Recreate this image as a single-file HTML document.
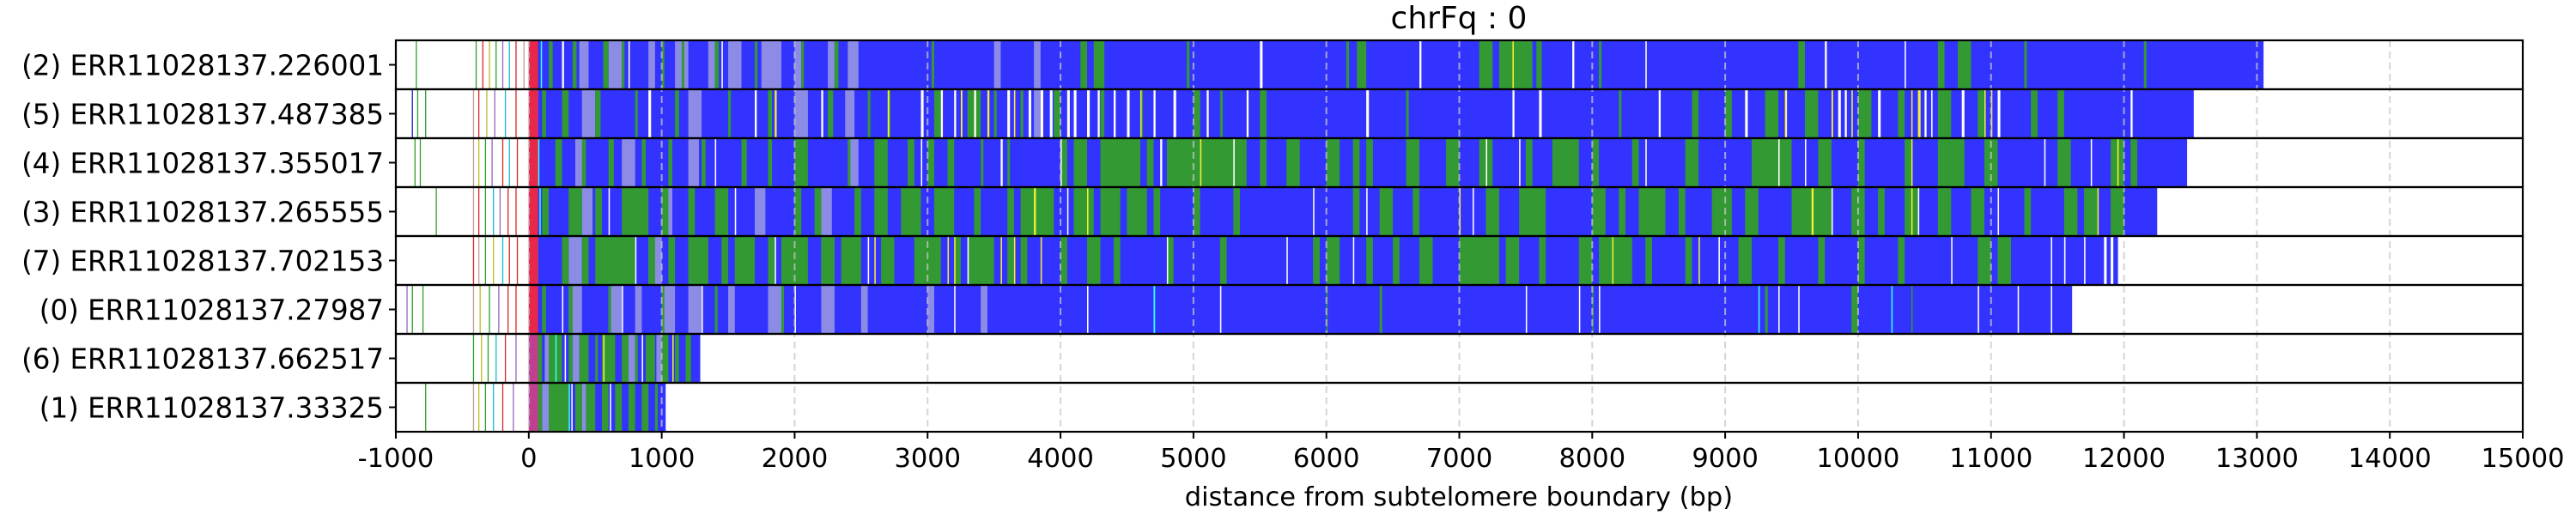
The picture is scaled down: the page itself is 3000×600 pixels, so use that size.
<!DOCTYPE html>
<html><head><meta charset="utf-8">
<style>
html,body{margin:0;padding:0;background:#fff;}
svg{display:block;font-family:"DejaVu Sans","Liberation Sans",sans-serif;}
</style></head>
<body>
<svg id="chart" width="3000" height="600" viewBox="0 0 3000 600" xmlns="http://www.w3.org/2000/svg">
<text x="1699" y="33" font-size="36" text-anchor="middle">chrFq : 0</text>
<text x="1699" y="589" font-size="30.5" text-anchor="middle">distance from subtelomere boundary (bp)</text>
<g id="bars"></g>
<g id="grid"></g>
<g id="frames"></g>
<g id="axes"></g>
</svg>
<script>
const readLabels = ["(2) ERR11028137.226001","(5) ERR11028137.487385","(4) ERR11028137.355017","(3) ERR11028137.265555","(7) ERR11028137.702153","(0) ERR11028137.27987","(6) ERR11028137.662517","(1) ERR11028137.33325"];
const readEnds = [13050,12525,12475,12250,11955,11610,1290,1030];
const xTicks = [-1000,0,1000,2000,3000,4000,5000,6000,7000,8000,9000,10000,11000,12000,13000,14000,15000];
const greenSegs = [
 [[150,180],[330,360],[560,600],[700,720],[1000,1020],[1150,1170],[1400,1430],[1700,1720],[2050,2070],[2300,2330],[3030,3050],[4150,4200],[4250,4330],[4950,4970],[6150,6170],[6230,6300],[7150,7250],[7300,7550],[7580,7620],[8050,8070],[9550,9600],[10600,10650],[10750,10850],[11250,11270],[12150,12170]],
 [[100,130],[250,300],[500,540],[800,820],[1100,1130],[1500,1520],[1800,1830],[2250,2290],[2550,2570],[2700,2720],[3050,3100],[3300,3400],[3500,3520],[3700,3720],[3950,4000],[4300,4330],[4600,4620],[5000,5050],[5200,5220],[5500,5550],[6600,6620],[8200,8220],[8750,8800],[9000,9050],[9300,9400],[9600,9700],[10000,10100],[10300,10350],[10600,10700],[10900,10950],[11300,11350],[11500,11550]],
 [[50,80],[200,250],[400,430],[600,640],[850,880],[1050,1080],[1300,1330],[1600,1640],[1800,1830],[2000,2100],[2400,2420],[2600,2700],[2850,2900],[3000,3050],[3150,3200],[3400,3420],[3600,3620],[4000,4050],[4100,4200],[4300,4600],[4650,4700],[4800,5400],[5500,5550],[5700,5800],[6000,6100],[6200,6250],[6300,6350],[6600,6700],[6900,7000],[7150,7250],[7500,7550],[7700,7900],[8000,8050],[8300,8350],[8700,8800],[9200,9500],[9700,9800],[10000,10050],[10350,10400],[10600,10800],[10950,11050],[11500,11600],[11900,12000],[12050,12100]],
 [[100,150],[300,400],[500,550],[700,900],[1000,1050],[1200,1250],[1400,1500],[2000,2050],[2150,2200],[2450,2500],[2600,2700],[2800,2950],[3050,3200],[3350,3400],[3600,3650],[3700,3950],[4100,4250],[4300,4450],[4500,4650],[4700,4750],[5000,5050],[5300,5350],[6200,6250],[6400,6500],[6650,6700],[7200,7300],[7450,7650],[8000,8100],[8200,8250],[8350,8550],[8650,8700],[8900,9050],[9150,9250],[9500,9800],[9950,10050],[10150,10200],[10350,10450],[10600,10700],[10850,10950],[11250,11300],[11550,11650],[11700,11800],[11900,12000]],
 [[250,300],[400,450],[500,800],[900,950],[1050,1100],[1200,1350],[1450,1500],[1550,1700],[1800,1850],[1900,2100],[2200,2300],[2350,2500],[2650,2750],[2900,3100],[3200,3250],[3300,3500],[3600,3650],[3700,3750],[4000,4050],[4200,4300],[4400,4450],[4800,4850],[5200,5250],[5900,5950],[6000,6100],[6300,6350],[6500,6550],[6700,6800],[7000,7300],[7350,7450],[7600,7650],[7900,8000],[8050,8300],[8400,8450],[8700,8750],[9100,9200],[9400,9450],[9700,9750],[10000,10050],[10300,10350],[10900,11000],[11050,11150]],
 [[100,130],[300,330],[600,620],[1000,1020],[1400,1420],[1900,1920],[6000,6010],[6400,6420],[8000,8010],[9300,9320],[9950,10000],[10400,10410]],
 [[50,100],[150,250],[300,330],[380,450],[500,520],[550,650],[700,750],[800,820],[880,950],[1000,1050],[1100,1130],[1180,1220]],
 [[40,100],[150,300],[350,400],[430,500],[550,600],[650,700],[750,800],[850,900],[950,970]]
];
const lavenderSegs = [
 [[380,450],[600,700],[900,950],[1100,1200],[1350,1400],[1500,1600],[1750,1900],[2000,2050],[2250,2300],[2400,2480],[3500,3550],[3800,3850],[4280,4320]],
 [[400,500],[1200,1300],[2000,2100],[2380,2450],[3800,3850]],
 [[350,420],[700,800],[1200,1280],[2400,2480]],
 [[400,480],[1000,1080],[1700,1780],[2200,2280]],
 [[300,400],[900,1000],[1600,1700],[1900,2000],[2200,2300],[2400,2450]],
 [[300,400],[600,700],[800,850],[1000,1100],[1200,1300],[1500,1550],[1800,1900],[2200,2300],[2500,2550],[3000,3050],[3400,3450]],
 [[120,150],[330,380],[750,800],[960,1000]],
 [[100,150],[400,430]]
];
const whiteSegs = [
 [[250,265],[750,760],[1450,1460],[5500,5520],[6700,6715],[7850,7865],[8400,8410],[9750,9765],[10350,10360]],
 [[900,920],[1700,1715],[2200,2215],[2950,2970],[3100,3115],[3200,3215],[3350,3365],[3600,3620],[3760,3780],[3850,3870],[3920,3940],[4050,4070],[4100,4120],[4200,4220],[4280,4295],[4400,4415],[4500,4520],[4700,4715],[4850,4870],[5100,5115],[5400,5415],[6300,6320],[7400,7415],[7600,7620],[8500,8515],[9150,9170],[9450,9465],[9850,9870],[9900,9915],[10150,10170],[10500,10515],[10550,10560],[10780,10800],[11050,11070],[12050,12065]],
 [[1400,1410],[2950,2960],[3550,3565],[4000,4010],[4750,4765],[5300,5310],[7200,7210],[7450,7460],[8400,8410],[9400,9410],[9600,9610],[11400,11410],[11750,11760]],
 [[600,610],[1550,1560],[4050,4060],[5900,5910],[6300,6310],[7100,7110],[9800,9810],[10450,10460],[11050,11060]],
 [[800,810],[1850,1860],[2550,2560],[3300,3310],[4800,4810],[5700,5710],[6200,6210],[8950,8960],[10700,10710],[11450,11460],[11550,11560],[11700,11710],[11850,11870],[11900,11920]],
 [[250,260],[700,710],[1300,1310],[2000,2010],[3200,3210],[4200,4210],[5200,5210],[7500,7510],[7900,7910],[8050,8060],[9400,9410],[9550,9560],[10900,10910],[11200,11210],[11450,11460]],
 [[270,280],[850,860]],
 [[320,330],[610,620]]
];
const yellowSegs = [
 [[7400,7410]],
 [[1850,1865],[2700,2712],[3250,3262],[3450,3465],[3650,3660],[4600,4610],[9450,9460],[9800,9812],[9950,9960],[10400,10410],[10450,10470],[10950,10960],[11000,11010]],
 [[5050,5060],[10400,10410],[11950,11960]],
 [[3800,3815],[4200,4210],[7000,7010],[9650,9665],[10400,10410],[11800,11810]],
 [[2600,2610],[3150,3160],[3200,3210],[3550,3560],[3650,3660],[3850,3860],[8150,8160],[8800,8810]],
 [],
 [[560,570],[1080,1090]],
 []
];
const cyanSegs = [[[90,100]],[[60,70]],[[70,80]],[[80,90]],[[60,70]],[[4700,4712],[9250,9260],[10250,10260]],[[200,210]],[[300,310]]];
const preLines = [
 [[-850,"#2ca02c"],[-400,"#2ca02c"],[-350,"#d62728"],[-300,"#bcbd22"],[-250,"#2ca02c"],[-200,"#9467bd"],[-150,"#17becf"],[-100,"#d62728"],[-40,"#c49c94"]],
 [[-880,"#1f1fcc"],[-840,"#2ca02c"],[-780,"#2ca02c"],[-420,"#c49c94"],[-380,"#d62728"],[-320,"#bcbd22"],[-260,"#9467bd"],[-180,"#17becf"],[-100,"#d62728"]],
 [[-860,"#2ca02c"],[-820,"#2ca02c"],[-420,"#c49c94"],[-380,"#bcbd22"],[-330,"#2ca02c"],[-280,"#9467bd"],[-200,"#d62728"],[-150,"#17becf"],[-90,"#d62728"]],
 [[-700,"#2ca02c"],[-420,"#c49c94"],[-380,"#d62728"],[-330,"#2ca02c"],[-270,"#17becf"],[-220,"#9467bd"],[-160,"#d62728"],[-100,"#d62728"]],
 [[-420,"#d62728"],[-380,"#c49c94"],[-330,"#2ca02c"],[-270,"#bcbd22"],[-200,"#17becf"],[-150,"#d62728"],[-90,"#d62728"]],
 [[-920,"#9467bd"],[-880,"#2ca02c"],[-800,"#2ca02c"],[-420,"#c49c94"],[-370,"#bcbd22"],[-300,"#2ca02c"],[-230,"#9467bd"],[-160,"#d62728"],[-100,"#d62728"]],
 [[-420,"#2ca02c"],[-360,"#bcbd22"],[-310,"#2ca02c"],[-250,"#17becf"],[-180,"#d62728"],[-100,"#9467bd"]],
 [[-780,"#2ca02c"],[-420,"#c49c94"],[-380,"#bcbd22"],[-330,"#2ca02c"],[-270,"#17becf"],[-200,"#d62728"],[-120,"#9467bd"]]
];

const NS = "http://www.w3.org/2000/svg";
const L = 461, R = 2938, T = 47, RH = 57;
const xMin = -1000, xMax = 15000;
function xs(v){ return L + (v - xMin) / (xMax - xMin) * (R - L); }
function rowTop(i){ return T + i * RH; }
function mk(tag, attrs, parent){
  const e = document.createElementNS(NS, tag);
  for (const k in attrs) e.setAttribute(k, attrs[k]);
  parent.appendChild(e);
  return e;
}
const bars = document.getElementById('bars');
const grid = document.getElementById('grid');
const frames = document.getElementById('frames');
const axes = document.getElementById('axes');

function seg(list, color, i, name){
  list.forEach(s => {
    const x0 = xs(s[0]), x1 = xs(s[1]);
    const r = mk('rect', {x: x0, y: rowTop(i), width: Math.max(1.3, x1 - x0), height: RH, fill: color}, bars);
    
    
  });
}

readEnds.forEach((end, i) => {
  const b = mk('rect', {x: xs(0), y: rowTop(i), width: xs(end) - xs(0), height: RH, fill: '#3333ff'}, bars);
  
  
  seg(lavenderSegs[i], '#8c8ce6', i, 'lavender-segment');
  seg(greenSegs[i], '#339933', i, 'green-segment');
  seg(whiteSegs[i], '#ffffff', i, 'white-gap');
  seg(yellowSegs[i], '#f5f032', i, 'yellow-segment');
  seg(cyanSegs[i], '#33ffff', i, 'cyan-segment');
  const red = mk('rect', {x: xs(0), y: rowTop(i), width: xs(70) - xs(0), height: RH, fill: i < 6 ? '#e8284a' : '#c04090'}, bars);
  
  
  preLines[i].forEach(p => {
    const ln = mk('rect', {x: xs(p[0]), y: rowTop(i), width: 1.3, height: RH, fill: p[1]}, bars);
    
    
  });
});

xTicks.forEach(t => {
  if (t > xMin && t < xMax) {
    const g = mk('line', {x1: xs(t), x2: xs(t), y1: T, y2: T + 8 * RH, stroke: '#c8c8c8', 'stroke-width': 2, 'stroke-dasharray': '8,5', opacity: 0.75}, grid);
    
    
  }
  const tk = mk('line', {x1: xs(t), x2: xs(t), y1: T + 8 * RH, y2: T + 8 * RH + 8, stroke: '#000', 'stroke-width': 2}, axes);
  
  
  const tl = mk('text', {x: xs(t), y: T + 8 * RH + 41, 'font-size': 30.5, 'text-anchor': 'middle'}, axes);
  tl.textContent = t;
  
  
});

readLabels.forEach((lab, i) => {
  const f = mk('rect', {x: L, y: rowTop(i), width: R - L, height: RH, fill: 'none', stroke: '#000', 'stroke-width': 2.2}, frames);
  
  
  const cy = rowTop(i) + RH / 2;
  const tk = mk('line', {x1: L - 8, x2: L, y1: cy, y2: cy, stroke: '#000', 'stroke-width': 2}, axes);
  
  
  const tl = mk('text', {x: L - 14, y: cy + 12, 'font-size': 32.5, 'text-anchor': 'end'}, axes);
  tl.textContent = lab;
  
  
});
</script>
</body></html>
